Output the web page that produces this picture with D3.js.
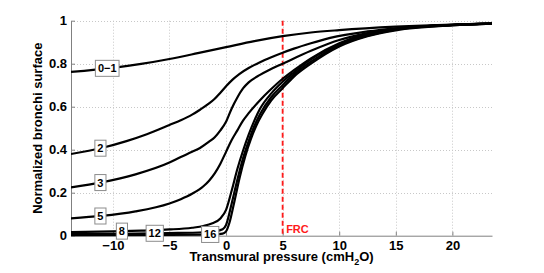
<!DOCTYPE html>
<html>
<head>
<meta charset="utf-8">
<script src="https://cdn.jsdelivr.net/npm/d3@7"></script>
<style>
  body { margin: 0; background: #fff; }
  svg { display: block; }
  text { font-family: "Liberation Sans", Arial, Helvetica, sans-serif; font-weight: bold; }
</style>
</head>
<body>
<svg id="chart" width="544" height="273"></svg>
<script>
// ---- data ----
const generations = ["0\u22121", "2", "3", "5", "8", "12", "16"];

const curve01 = [[-13.7,0.762],[-10,0.781],[-7.5,0.799],[-5,0.822],[-2.5,0.849],[0,0.877],[2.5,0.905],[5,0.928],[7.5,0.945],[10,0.956],[15,0.972],[20,0.982],[23.5,0.986]];
const curve2 = [[-13.7,0.38],[-11,0.408],[-8.8,0.44],[-7,0.472],[-5,0.515],[-4,0.537],[-3,0.563],[-2.3,0.586],[-1.5,0.615],[-1,0.637],[-0.5,0.665],[0,0.695],[0.6,0.727],[1.2,0.753],[2,0.78],[3,0.807],[4,0.83],[5,0.851],[6,0.87],[7.5,0.895],[9.2,0.92],[12.5,0.95],[15,0.965],[20,0.981],[23.5,0.986]];
const curve3 = [[-13.7,0.225],[-11,0.248],[-8,0.285],[-5,0.34],[-4,0.366],[-3,0.39],[-2.3,0.408],[-1.5,0.437],[-1,0.458],[-0.5,0.49],[0,0.53],[0.5,0.592],[1,0.643],[1.5,0.685],[2,0.713],[3,0.748],[3.85,0.772],[5,0.80],[7.5,0.86],[10,0.91],[12.5,0.942],[15,0.963],[20,0.981],[23.5,0.986]];
const curve5 = [[-13.7,0.081],[-11,0.092],[-8,0.113],[-5,0.15],[-4,0.17],[-3,0.195],[-2,0.23],[-1.5,0.256],[-1,0.29],[-0.5,0.335],[0,0.39],[0.5,0.445],[1,0.49],[1.5,0.535],[2,0.57],[3,0.63],[3.85,0.675],[5,0.73],[6,0.77],[7.5,0.825],[10,0.895],[12.5,0.94],[15,0.962],[20,0.98],[23.5,0.986]];
const curve8 = [[-13.7,0.017],[-10,0.02],[-7.5,0.024],[-5,0.029],[-3,0.037],[-2,0.045],[-1.2,0.058],[-0.5,0.08],[0,0.12],[0.5,0.21],[1,0.31],[1.5,0.395],[2,0.47],[2.5,0.535],[3,0.59],[4,0.662],[5,0.716],[6,0.76],[7.5,0.82],[10,0.89],[12.5,0.935],[15,0.96],[20,0.98],[23.5,0.986]];
const curve12 = [[-13.7,0.008],[-10,0.009],[-5,0.012],[-2,0.016],[-1,0.02],[-0.3,0.03],[0,0.05],[0.5,0.15],[1,0.26],[1.5,0.36],[2,0.44],[2.5,0.51],[3,0.565],[4,0.645],[5,0.70],[6,0.75],[7.5,0.81],[10,0.885],[12.5,0.93],[15,0.958],[20,0.979],[23.5,0.986]];
const curve16 = [[-13.7,0.003],[-5,0.004],[-1,0.006],[-0.3,0.01],[0,0.02],[0.3,0.06],[0.7,0.15],[1.2,0.27],[1.7,0.37],[2.2,0.45],[2.7,0.515],[3.2,0.565],[4,0.63],[5,0.686],[6,0.74],[7.5,0.80],[10,0.88],[12.5,0.928],[15,0.955],[20,0.978],[23.5,0.986]];
const curves = [curve01, curve2, curve3, curve5, curve8, curve12, curve16];
const labelX = [-10.5, -11.1, -11.1, -11.1, -9.2, -6.3, -1.4];

const xTicks = [-10, -5, 0, 5, 10, 15, 20];
const yTicks = [0, 0.2, 0.4, 0.6, 0.8, 1];
const frcValue = 5;
const frcLabel = "FRC";
const xTitle = "Transmural pressure (cmH";
const yTitle = "Normalized bronchi surface";

// ---- layout ----
const svg = d3.select("#chart");
const x = d3.scaleLinear().domain([-13.7, 23.5]).range([71, 492]);
const y = d3.scaleLinear().domain([0, 1]).range([235.7, 20.7]);
const [x0, x1] = x.range();
const [yb, yt] = y.range();

// grid
const grid = svg.append("g").attr("stroke", "#c8c8c8").attr("stroke-width", 1).attr("stroke-dasharray", "1,2");
grid.selectAll("line.v").data(xTicks).join("line")
  .attr("x1", d => Math.round(x(d)) + 0.5).attr("x2", d => Math.round(x(d)) + 0.5)
  .attr("y1", yt).attr("y2", yb);
grid.selectAll("line.h").data(yTicks.filter(d => d > 0)).join("line")
  .attr("x1", x0).attr("x2", x1)
  .attr("y1", d => Math.round(y(d)) + 0.5).attr("y2", d => Math.round(y(d)) + 0.5);

// axes
const xAxis = d3.axisBottom(x).tickValues(xTicks).tickSizeInner(-4).tickSizeOuter(0)
  .tickPadding(5).tickFormat(d => d < 0 ? "\u2212" + Math.abs(d) : d);
const gx = svg.append("g").attr("transform", `translate(0,${yb})`).call(xAxis);
const yAxis = d3.axisLeft(y).tickValues(yTicks).tickSizeInner(-4).tickSizeOuter(0)
  .tickPadding(4).tickFormat(d => d);
const gy = svg.append("g").attr("transform", `translate(${x0},0)`).call(yAxis);
[gx, gy].forEach(g => {
  g.select(".domain").attr("stroke", "#808080");
  g.selectAll(".tick line").attr("stroke", "#808080");
  g.selectAll(".tick text").attr("fill", "#000").style("font-size", "13px").style("font-weight", "bold")
    .style("font-family", '"Liberation Sans", Arial, sans-serif');
});

// clip
svg.append("clipPath").attr("id", "clip").append("rect")
  .attr("x", x0).attr("y", yt - 5).attr("width", x1 - x0).attr("height", yb - yt + 10);

// FRC line
svg.append("line")
  .attr("x1", x(frcValue)).attr("x2", x(frcValue)).attr("y1", yt).attr("y2", yb)
  .attr("stroke", "#ff1a1a").attr("stroke-width", 1.8).attr("stroke-dasharray", "5,3");
svg.append("text").attr("x", x(frcValue) + 3.5).attr("y", yb - 3)
  .attr("fill", "#ff1a1a").style("font-size", "11px").text(frcLabel);

// curves
const line = d3.line().x(d => x(d[0])).y(d => y(d[1])).curve(d3.curveMonotoneX);
svg.append("g").attr("clip-path", "url(#clip)")
  .selectAll("path").data(curves).join("path")
  .attr("d", line).attr("fill", "none").attr("stroke", "#000").attr("stroke-width", 2.2)
  .attr("stroke-linejoin", "round");

// labels
function valueAt(c, xv) {
  for (let i = 0; i < c.length - 1; i++) {
    if (xv >= c[i][0] && xv <= c[i + 1][0]) {
      const t = (xv - c[i][0]) / (c[i + 1][0] - c[i][0]);
      return c[i][1] + t * (c[i + 1][1] - c[i][1]);
    }
  }
  return c[c.length - 1][1];
}
generations.forEach((g, i) => {
  const cx = x(labelX[i]);
  const cy = y(valueAt(curves[i], labelX[i]));
  const grp = svg.append("g");
  const t = grp.append("text").attr("x", cx).attr("y", cy).attr("text-anchor", "middle")
    .attr("dy", "0.36em").style("font-size", "11px").text(g);
  const bb = t.node().getBBox();
  grp.insert("rect", "text")
    .attr("x", bb.x - 2.5).attr("y", cy - 8).attr("width", bb.width + 5).attr("height", 16)
    .attr("fill", "#fff").attr("stroke", "#8c8c8c").attr("stroke-width", 1);
});

// titles
const xt = svg.append("text").attr("x", (x0 + x1) / 2).attr("y", 261).attr("text-anchor", "middle")
  .style("font-size", "13px");
xt.append("tspan").text(xTitle);
xt.append("tspan").attr("dy", 4).style("font-size", "9px").text("2");
xt.append("tspan").attr("dy", -4).text("O)");
svg.append("text").attr("transform", `translate(42,${(yt + yb) / 2}) rotate(-90)`)
  .attr("text-anchor", "middle").style("font-size", "13px").text(yTitle);
</script>
</body>
</html>
